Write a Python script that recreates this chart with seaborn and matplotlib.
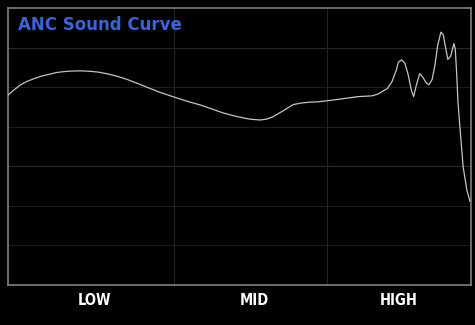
import matplotlib
matplotlib.use("Agg")
import matplotlib.pyplot as plt
import seaborn as sns
import pandas as pd

# ---- data (normalized position 0-100 across the band, level in arbitrary dB) ----
pos = [0, 1.3, 2.6, 4.0, 5.5, 7.3, 9.1, 10.5, 11.9, 13.4, 14.8, 16.2, 17.7, 19.5, 21.3,
       23.4, 25.6, 28.5, 30.6, 32.8, 35.6, 38.5, 41.5, 44.0, 46.4, 49.3,
       52.3, 54.4, 55.8, 57.2, 59.4, 61.6, 63.4, 65.2, 67.0, 70.6, 75.6, 78.6,
       79.8, 81.9, 82.9, 83.9, 84.3, 85.0, 85.7, 86.4, 87.1, 87.6,
       88.2, 88.9, 89.6, 90.3, 90.9, 91.6, 92.2, 92.8, 93.5, 94.0,
       94.5, 95.0, 95.6, 96.3, 96.6, 96.9, 97.2, 97.6, 98.3, 99.1, 99.8]
level = [48.0, 49.3, 50.5, 51.4, 52.1, 52.8, 53.3, 53.7, 53.9, 54.05, 54.1, 54.1, 54.0, 53.8, 53.4,
         52.8, 52.0, 50.7, 49.7, 48.7, 47.6, 46.5, 45.5, 44.5, 43.5, 42.6,
         41.9, 41.7, 41.9, 42.5, 44.0, 45.6, 46.0, 46.2, 46.3, 46.8, 47.6, 47.8,
         48.2, 49.6, 51.3, 54.4, 56.3, 56.9, 56.1, 53.3, 49.3, 47.6,
         50.5, 53.4, 52.5, 51.1, 50.6, 51.9, 55.5, 60.5, 63.9, 63.3,
         60.0, 57.0, 57.8, 61.0, 59.6, 53.6, 46.0, 40.0, 29.9, 24.0, 21.1]

band_labels = ["LOW", "MID", "HIGH"]
band_centers = [18.6, 53.1, 84.4]
band_edges = [35.85, 68.9]
level_grid = [10, 20, 30, 40, 50, 60]
title = "ANC Sound Curve"

df = pd.DataFrame({"pos": pos, "level": level})

sns.set_style("dark")
plt.rcParams["font.family"] = ["DejaVu Sans"]

fig = plt.figure(figsize=(4.75, 3.25), dpi=100, facecolor="black")
ax = fig.add_axes([8 / 475, 40 / 325, 463 / 475, 277 / 325])
ax.set_facecolor("black")

for g in level_grid:
    col = "#2a2a2a" if g in (30, 60) else "#1c1c1c"
    ax.axhline(g, color=col, lw=0.8, zorder=1)
for e in band_edges:
    ax.axvline(e, color="#242424", lw=0.8, zorder=1)

sns.lineplot(data=df, x="pos", y="level", ax=ax, color="#c4c4c4", lw=0.9,
             zorder=3, estimator=None, sort=False)

ax.set_xlim(0, 100)
ax.set_ylim(0, 70)
ax.set_xticks(band_centers)
ax.set_xticklabels(band_labels, color="white", fontsize=10.5, fontweight="bold",
                   fontstretch="condensed")
ax.set_yticks([])
ax.tick_params(axis="x", length=0, pad=6)
ax.set_xlabel("")
ax.set_ylabel("")
ax.grid(False)
for s in ax.spines.values():
    s.set_visible(True)
    s.set_color("#8a8a8a")
    s.set_linewidth(1.1)

ax.text(0.0216, 0.939, title, transform=ax.transAxes, ha="left", va="center",
        color="#3b64d6", fontsize=12, fontweight="bold", zorder=5)

fig.savefig("out.png", dpi=100, facecolor="black")
